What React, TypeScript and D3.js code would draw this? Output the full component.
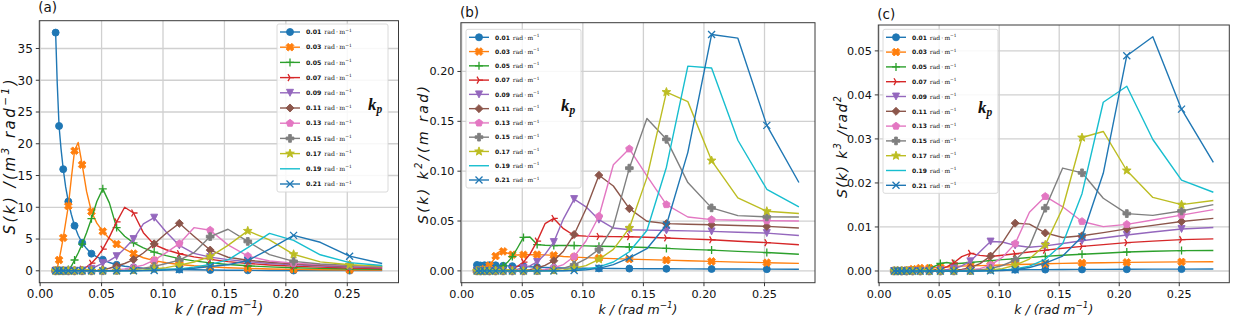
import React from "react";
import * as d3 from "d3";

// wavenumber grid (rad/m)
const kGrid = [
  0.0126, 0.01392, 0.01539, 0.017, 0.01879, 0.02076, 0.02294, 0.02535,
  0.02801, 0.03095, 0.0342, 0.03779, 0.04176, 0.04614, 0.05099, 0.05634,
  0.06226, 0.06879, 0.07602, 0.084, 0.09282, 0.1026, 0.1133, 0.1252,
  0.1384, 0.1529, 0.169, 0.1867, 0.2063, 0.228, 0.2519, 0.2784,
];

const kpLabels = ["0.01", "0.03", "0.05", "0.07", "0.09", "0.11", "0.13", "0.15", "0.17", "0.19", "0.21"];

// S(k) in m^3 rad^-1, one array per peak wavenumber
const s001 = [37.5, 29.5, 22.8, 19.2, 16.0, 13.2, 10.9, 8.9, 7.1, 5.6, 4.4, 3.5, 2.7, 2.2, 1.75, 1.3, 0.95, 0.72, 0.55, 0.42, 0.325, 0.25, 0.195, 0.155, 0.12, 0.093, 0.074, 0.057, 0.045, 0.035, 0.027, 0.021];
const s003 = [0.05, 0.4, 1.7, 3.3, 5.2, 7.6, 10.2, 14.5, 18.9, 20.2, 16.7, 12.5, 9.3, 7.5, 6.2, 5.1, 4.2, 3.4, 2.7, 2.05, 1.6, 1.26, 1.0, 0.784, 0.616, 0.483, 0.378, 0.29, 0.223, 0.169, 0.129, 0.097];
const s005 = [0, 0, 0, 0, 0.01, 0.05, 0.2, 0.7, 1.7, 2.8, 4.2, 6.0, 8.2, 10.9, 12.9, 10.7, 6.8, 5.43, 4.4, 3.6, 2.95, 2.38, 1.92, 1.56, 1.25, 1.0, 0.79, 0.62, 0.49, 0.377, 0.29, 0.216];
const s007 = [0, 0, 0, 0, 0, 0, 0, 0, 0.02, 0.08, 0.25, 0.6, 1.2, 2.1, 3.4, 5.3, 7.7, 10.0, 9.1, 6.0, 4.12, 3.31, 2.69, 2.19, 1.79, 1.446, 1.156, 0.921, 0.733, 0.573, 0.446, 0.338];
const s009 = [0, 0, 0, 0, 0, 0, 0, 0, 0, 0.01, 0.04, 0.12, 0.3, 0.75, 1.2, 1.6, 2.3, 3.5, 5.0, 7.4, 8.36, 6.1, 4.0, 2.74, 2.15, 1.75, 1.42, 1.15, 0.93, 0.746, 0.597, 0.458];
const s011 = [0, 0, 0, 0, 0, 0, 0, 0, 0, 0, 0, 0, 0.02, 0.06, 0.18, 0.4, 0.75, 1.15, 1.76, 2.8, 4.24, 5.9, 7.47, 5.43, 3.26, 2.13, 1.66, 1.34, 1.088, 0.875, 0.703, 0.554];
const s013 = [0, 0, 0, 0, 0, 0, 0, 0, 0, 0, 0, 0, 0, 0, 0.02, 0.06, 0.15, 0.3, 0.55, 0.9, 1.68, 2.85, 4.27, 6.79, 6.39, 4.08, 2.33, 1.55, 1.207, 0.977, 0.794, 0.646];
const s015 = [0, 0, 0, 0, 0, 0, 0, 0, 0, 0, 0, 0, 0, 0, 0, 0.02, 0.05, 0.1, 0.2, 0.4, 0.7, 1.15, 1.68, 2.85, 5.38, 6.54, 4.62, 2.54, 1.485, 1.066, 0.853, 0.698];
const s017 = [0, 0, 0, 0, 0, 0, 0, 0, 0, 0, 0, 0, 0, 0, 0, 0, 0.01, 0.025, 0.06, 0.14, 0.3, 0.5, 0.9, 1.38, 2.24, 4.0, 6.28, 4.87, 2.6, 1.41, 0.943, 0.742];
const s019 = [0, 0, 0, 0, 0, 0, 0, 0, 0, 0, 0, 0, 0, 0, 0, 0, 0, 0.005, 0.015, 0.04, 0.09, 0.17, 0.31, 0.57, 1.0, 1.73, 3.64, 5.89, 4.78, 2.52, 1.29, 0.829];
const s021 = [0, 0, 0, 0, 0, 0, 0, 0, 0, 0, 0, 0, 0, 0, 0, 0, 0, 0, 0, 0.02, 0.05, 0.1, 0.2, 0.4, 0.68, 0.95, 1.61, 3.41, 5.57, 4.49, 2.3, 1.144];

const allSeries = [s001, s003, s005, s007, s009, s011, s013, s015, s017, s019, s021];
const colors = ["#1f77b4", "#ff7f0e", "#2ca02c", "#d62728", "#9467bd", "#8c564b", "#e377c2", "#7f7f7f", "#bcbd22", "#17becf", "#1f77b4"];
const markers = ["o", "X", "+", "4", "v", "D", "p", "P", "*", "", "x"];

const xTicks = [0, 0.05, 0.1, 0.15, 0.2, 0.25];

// y-label pieces: [text, isSuperscript]
const ylabA: [string, boolean][] = [["S(k) /(m", false], ["3", true], [" rad", false], ["\u22121", true], [")", false]];
const ylabB: [string, boolean][] = [["S(k) k", false], ["2", true], ["/(m rad)", false]];
const ylabC: [string, boolean][] = [["S(k) k", false], ["3", true], [" /rad", false], ["2", true]];

const panels = [
  {
    title: "(a)", power: 0, l: 39.3, r: 398.5, t: 20.7, b: 282.7, titleY: 11.5,
    yTicks: [0, 5, 10, 15, 20, 25, 30, 35], fmt: d3.format("d"),
    ylabel: ylabA, ylabelX: 15, ylabelY: 157, ylabelLen: 155,
    xlabelFont: 14, font: 12, labelFont: 15,
    leg: { l: 277, t: 24, r: 388, b: 192 }, legFont: 6.2,
  },
  {
    title: "(b)", power: 2, l: 460.9, r: 815, t: 22.7, b: 282.7, titleY: 17,
    yTicks: [0, 0.05, 0.1, 0.15, 0.2], fmt: d3.format(".2f"),
    ylabel: ylabB, ylabelX: 428, ylabelY: 155, ylabelLen: 138,
    xlabelFont: 12.5, font: 11.2, labelFont: 14,
    leg: { l: 466, t: 29.3, r: 581, b: 188 }, legFont: 6,
  },
  {
    title: "(c)", power: 3, l: 878.3, r: 1229.3, t: 25, b: 282.7, titleY: 19,
    yTicks: [0, 0.01, 0.02, 0.03, 0.04, 0.05], fmt: d3.format(".2f"),
    ylabel: ylabC, ylabelX: 846.5, ylabelY: 147, ylabelLen: 102,
    xlabelFont: 12.5, font: 11.2, labelFont: 14,
    leg: { l: 883, t: 29.3, r: 998, b: 193.3 }, legFont: 6,
  },
];

type Pt = [number, number];
const poly = (arr: Pt[]) => "M" + arr.map((p) => p[0].toFixed(2) + "," + p[1].toFixed(2)).join("L") + "Z";

function markerPath(m: string, r: number): string {
  const w = r * 0.36;
  const plus: Pt[] = [[-w, -r], [w, -r], [w, -w], [r, -w], [r, w], [w, w], [w, r], [-w, r], [-w, w], [-r, w], [-r, -w], [-w, -w]];
  switch (m) {
    case "o":
      return d3.symbol(d3.symbolCircle, Math.PI * r * r)() as string;
    case "X": {
      const c = Math.SQRT1_2 * 1.15;
      return poly(plus.map(([a, b]) => [(a - b) * c, (a + b) * c] as Pt));
    }
    case "P":
      return poly(plus.map(([a, b]) => [a * 1.1, b * 1.1] as Pt));
    case "+":
      return `M${-r - 0.5},0H${r + 0.5}M0,${-r - 0.5}V${r + 0.5}`;
    case "x":
      return `M${-r},${-r}L${r},${r}M${-r},${r}L${r},${-r}`;
    case "4": {
      const a = r + 0.5;
      return `M0,0L${a},0M0,0L${-a / 2},${-a * 0.866}M0,0L${-a / 2},${a * 0.866}`;
    }
    case "v":
      return poly([[0, r], [-r, -r], [r, -r]]);
    case "D": {
      const a = r * 1.15;
      return poly([[0, -a], [a, 0], [0, a], [-a, 0]]);
    }
    case "p":
      return poly(d3.range(5).map((i) => {
        const ang = -Math.PI / 2 + (i * 2 * Math.PI) / 5;
        return [Math.cos(ang) * r * 1.1, Math.sin(ang) * r * 1.1] as Pt;
      }));
    case "*":
      return poly(d3.range(10).map((i) => {
        const ang = -Math.PI / 2 + (i * Math.PI) / 5;
        const rr = i % 2 === 0 ? r * 1.3 : r * 0.55;
        return [Math.cos(ang) * rr, Math.sin(ang) * rr] as Pt;
      }));
    default:
      return "";
  }
}

const isStroke = (m: string) => m === "+" || m === "x" || m === "4";

function Marker({ m, color, cx, cy }: { m: string; color: string; cx: number; cy: number }) {
  if (!m) return null;
  const d = markerPath(m, 3.5);
  return isStroke(m) ? (
    <path d={d} transform={`translate(${cx},${cy})`} fill="none" stroke={color} strokeWidth={1.3} />
  ) : (
    <path d={d} transform={`translate(${cx},${cy})`} fill={color} stroke={color} strokeWidth={0.9} />
  );
}

function Panel({ p }: { p: (typeof panels)[number] }) {
  const data = allSeries.map((s) => s.map((v, i) => v * Math.pow(kGrid[i], p.power)));
  const flat = data.flat();
  const yMin = d3.min(flat) as number;
  const yMax = d3.max(flat) as number;
  const yPad = (yMax - yMin) * 0.05;
  const kMin = d3.min(kGrid) as number;
  const kMax = d3.max(kGrid) as number;
  const xPad = (kMax - kMin) * 0.05;

  const x = d3.scaleLinear().domain([kMin - xPad, kMax + xPad]).range([p.l, p.r]);
  const y = d3.scaleLinear().domain([yMin - yPad, yMax + yPad]).range([p.b, p.t]);
  const line = d3.line<number>().x((_, i) => x(kGrid[i])).y((d) => y(d));

  const leg = p.leg;
  const sp = (leg.b - leg.t - 16) / 10;
  const legMid = (leg.t + leg.b) / 2;
  const supShift = p.labelFont * 0.42;

  return (
    <g>
      {/* grid */}
      {xTicks.map((t) => (
        <line key={"gx" + t} x1={x(t)} x2={x(t)} y1={p.t} y2={p.b} stroke="#d0d0d0" strokeWidth={1.3} />
      ))}
      {p.yTicks.map((t) => (
        <line key={"gy" + t} x1={p.l} x2={p.r} y1={y(t)} y2={y(t)} stroke="#d0d0d0" strokeWidth={1.3} />
      ))}

      {/* series */}
      {data.map((vals, si) => (
        <g key={"s" + si}>
          <path d={line(vals) as string} fill="none" stroke={colors[si]} strokeWidth={1.4} strokeLinejoin="round" />
          {vals.map((v, i) =>
            i % 2 === 0 ? <Marker key={i} m={markers[si]} color={colors[si]} cx={x(kGrid[i])} cy={y(v)} /> : null
          )}
        </g>
      ))}

      {/* spines */}
      <rect x={p.l} y={p.t} width={p.r - p.l} height={p.b - p.t} fill="none" stroke="#3a3a3a" strokeWidth={1} />

      {/* x ticks */}
      {xTicks.map((t) => (
        <g key={"tx" + t}>
          <line x1={x(t)} x2={x(t)} y1={p.b} y2={p.b + 3.5} stroke="#222" strokeWidth={0.9} />
          <text x={x(t)} y={p.b + 6.5 + p.font * 0.76} textAnchor="middle" fontSize={p.font} fill="#111">
            {d3.format(".2f")(t)}
          </text>
        </g>
      ))}
      {/* y ticks */}
      {p.yTicks.map((t) => (
        <g key={"ty" + t}>
          <line x1={p.l - 3.5} x2={p.l} y1={y(t)} y2={y(t)} stroke="#222" strokeWidth={0.9} />
          <text x={p.l - 6.5} y={y(t)} dy="0.36em" textAnchor="end" fontSize={p.font} fill="#111">
            {p.fmt(t)}
          </text>
        </g>
      ))}

      {/* labels */}
      <text x={p.l - 1} y={p.titleY} fontSize={13.5} fill="#111">{p.title}</text>
      <text x={(p.l + p.r) / 2} y={313.5} textAnchor="middle" fontSize={p.xlabelFont} fontStyle="italic" fill="#111">
        {"k / (rad m"}
        <tspan fontSize={p.xlabelFont * 0.7} dy={-p.xlabelFont * 0.42}>{"\u22121"}</tspan>
        <tspan dy={p.xlabelFont * 0.42}>{")"}</tspan>
      </text>
      <text
        x={p.ylabelX}
        y={p.ylabelY}
        transform={`rotate(-90,${p.ylabelX},${p.ylabelY})`}
        textAnchor="middle"
        fontSize={p.labelFont}
        fontStyle="italic"
        fill="#111"
        textLength={p.ylabelLen}
        lengthAdjust="spacing"
      >
        {p.ylabel.map(([txt, sup], i) => {
          const prevSup = i > 0 && p.ylabel[i - 1][1];
          const dy = sup ? -supShift : prevSup ? supShift : 0;
          return (
            <tspan key={i} dy={dy} fontSize={sup ? p.labelFont * 0.7 : p.labelFont}>
              {txt}
            </tspan>
          );
        })}
      </text>

      {/* legend */}
      <rect x={leg.l} y={leg.t} width={leg.r - leg.l} height={leg.b - leg.t} rx={2} fill="#fff" fillOpacity={0.85} stroke="#d6d6d6" strokeWidth={0.9} />
      {kpLabels.map((lab, i) => {
        const cy = leg.t + 8 + i * sp;
        return (
          <g key={"l" + i}>
            <line x1={leg.l + 3} x2={leg.l + 23} y1={cy} y2={cy} stroke={colors[i]} strokeWidth={1.4} />
            <Marker m={markers[i]} color={colors[i]} cx={leg.l + 13} cy={cy} />
            <text x={leg.l + 29} y={cy + 2.2} fontSize={p.legFont} fill="#111">
              <tspan fontWeight="bold">{lab}</tspan>
              <tspan fontFamily="DejaVu Serif" dx={3}>{"rad\u2009\u00b7\u2009m"}</tspan>
              <tspan fontFamily="DejaVu Serif" fontSize={p.legFont * 0.72} dy={-2.6}>{"\u22121"}</tspan>
            </text>
          </g>
        );
      })}
      <text x={leg.r - 20} y={legMid + 2} fontFamily="Liberation Serif" fontWeight="bold" fontStyle="italic" fontSize={17} fill="#111">
        k<tspan fontSize={11.5} dy={3}>p</tspan>
      </text>
    </g>
  );
}

export default function App() {
  return (
    <svg
      width={1233}
      height={317}
      style={{ position: "absolute", left: 0, top: 0, background: "#fff" }}
      fontFamily="DejaVu Sans"
    >
      <rect width={1233} height={317} fill="#fff" />
      {panels.map((p) => (
        <Panel key={p.title} p={p} />
      ))}
    </svg>
  );
}
